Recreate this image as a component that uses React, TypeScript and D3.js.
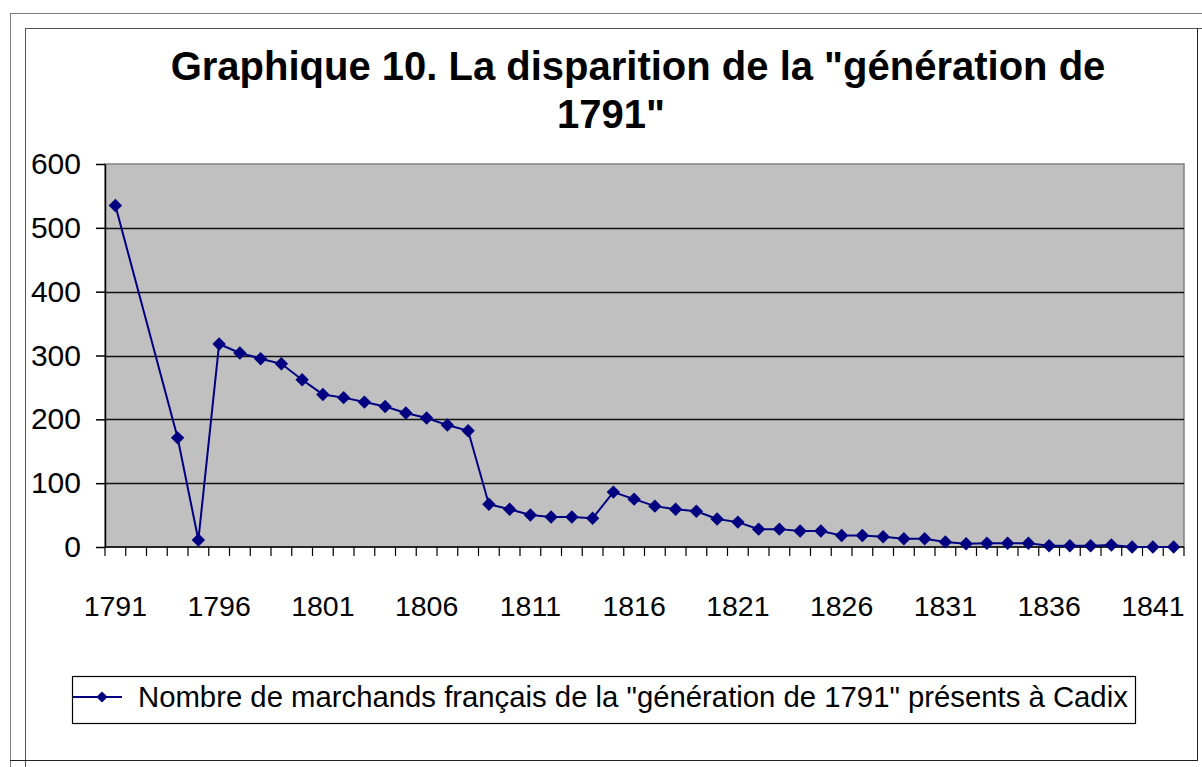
import { useRef, useEffect } from "react";
import * as d3 from "d3";

const WIDTH = 1202;
const HEIGHT = 767;

const YEARS = [
  1791, 1792, 1793, 1794, 1795, 1796, 1797, 1798, 1799, 1800,
  1801, 1802, 1803, 1804, 1805, 1806, 1807, 1808, 1809, 1810,
  1811, 1812, 1813, 1814, 1815, 1816, 1817, 1818, 1819, 1820,
  1821, 1822, 1823, 1824, 1825, 1826, 1827, 1828, 1829, 1830,
  1831, 1832, 1833, 1834, 1835, 1836, 1837, 1838, 1839, 1840,
  1841, 1842,
];

// marchands présents (1792 et 1793 sans donnée)
const MARCHANDS: (number | null)[] = [
  535, null, null, 171, 11, 318, 304, 295, 287, 262,
  239, 234, 227, 220, 210, 202, 191, 182, 67, 59,
  50, 47, 47, 45, 86, 75, 64, 59, 56, 44,
  39, 28, 28, 25, 25, 18, 18, 16, 13, 13,
  8, 5, 6, 6, 6, 2, 2, 2, 3, 0,
  0, 0,
];

const X_LABELS = [1791, 1796, 1801, 1806, 1811, 1816, 1821, 1826, 1831, 1836, 1841];
const Y_TICKS = [0, 100, 200, 300, 400, 500, 600];

const TITLE = ["Graphique 10. La disparition de la \"génération de", "1791\""];
const SERIES_NAME = "Nombre de marchands français de la \"génération de 1791\" présents à Cadix";

const FONT = "'Liberation Sans', Arial, sans-serif";
const NAVY = "#000080";

const PLOT = { left: 105, top: 164, right: 1184, bottom: 547 };

export default function App() {
  const svgRef = useRef<SVGSVGElement>(null);

  useEffect(() => {
    const svg = d3.select(svgRef.current);
    svg.selectAll("*").remove();

    // frame (two offset borders)
    const frame = svg.append("g").attr("fill", "none").attr("shape-rendering", "crispEdges");
    frame.append("path").attr("d", "M10.5,767 V13.5 H1202").attr("stroke", "#808080").attr("stroke-width", 1.5);
    frame.append("path").attr("d", "M25.5,767 V28.5 H1202").attr("stroke", "#555").attr("stroke-width", 1.5);
    frame.append("path").attr("d", "M10,760.5 H1197.5 V28").attr("stroke", "#222").attr("stroke-width", 1.5);

    // title
    svg.append("text")
      .attr("x", 638)
      .attr("y", 80)
      .attr("text-anchor", "middle")
      .attr("font-family", FONT)
      .attr("font-size", 40)
      .attr("font-weight", 700)
      .selectAll("tspan")
      .data(TITLE)
      .enter()
      .append("tspan")
      .attr("x", (_d, i) => (i === 0 ? 638 : 611))
      .attr("dy", (_d, i) => (i === 0 ? 0 : 48))
      .text((d) => d);

    const x = d3.scaleBand<number>()
      .domain(YEARS)
      .range([PLOT.left, PLOT.right])
      .padding(0);

    const y = d3.scaleLinear()
      .domain([0, 600])
      .range([PLOT.bottom, PLOT.top]);

    // plot area
    svg.append("rect")
      .attr("x", PLOT.left)
      .attr("y", PLOT.top)
      .attr("width", PLOT.right - PLOT.left)
      .attr("height", PLOT.bottom - PLOT.top)
      .attr("fill", "#c0c0c0")
      .attr("stroke", "#808080")
      .attr("stroke-width", 1.5);

    // gridlines
    svg.append("g")
      .selectAll("line")
      .data(Y_TICKS.filter((t) => t > 0 && t < 600))
      .enter()
      .append("line")
      .attr("x1", PLOT.left)
      .attr("x2", PLOT.right)
      .attr("y1", (d) => Math.round(y(d)) + 0.5)
      .attr("y2", (d) => Math.round(y(d)) + 0.5)
      .attr("stroke", "#111")
      .attr("stroke-width", 1.4);

    // y axis
    const yAxis = svg.append("g")
      .attr("transform", `translate(${PLOT.left},0)`)
      .call(d3.axisLeft(y).tickValues(Y_TICKS).tickSize(9).tickSizeOuter(0).tickPadding(15).tickFormat(d3.format("d")));
    yAxis.select(".domain").attr("stroke", "#000").attr("stroke-width", 1.5);
    yAxis.selectAll(".tick line").attr("stroke", "#000").attr("stroke-width", 1.5);
    yAxis.selectAll(".tick text")
      .attr("font-family", FONT)
      .attr("font-size", 30)
      .attr("fill", "#000");

    // x axis: ticks between categories, labels every 5 years
    const xg = svg.append("g");
    xg.append("line")
      .attr("x1", PLOT.left)
      .attr("x2", PLOT.right)
      .attr("y1", PLOT.bottom)
      .attr("y2", PLOT.bottom)
      .attr("stroke", "#000")
      .attr("stroke-width", 1.5);
    xg.selectAll("line.tick")
      .data([...YEARS.map((yr) => x(yr) as number), PLOT.right])
      .enter()
      .append("line")
      .attr("class", "tick")
      .attr("x1", (d) => d)
      .attr("x2", (d) => d)
      .attr("y1", PLOT.bottom)
      .attr("y2", PLOT.bottom + 9)
      .attr("stroke", "#000")
      .attr("stroke-width", 1.2);

    const xAxis = svg.append("g")
      .attr("transform", `translate(0,${PLOT.bottom})`)
      .call(d3.axisBottom(x).tickValues(X_LABELS).tickSize(0).tickPadding(49));
    xAxis.select(".domain").remove();
    xAxis.selectAll(".tick text")
      .attr("font-family", FONT)
      .attr("font-size", 28.5)
      .attr("fill", "#000");

    // series
    const pts = YEARS
      .map((yr, i) => ({ yr, v: MARCHANDS[i] }))
      .filter((d) => d.v !== null) as { yr: number; v: number }[];
    const cx = (yr: number) => (x(yr) as number) + x.bandwidth() / 2;

    const line = d3.line<{ yr: number; v: number }>()
      .x((d) => cx(d.yr))
      .y((d) => y(d.v));

    svg.append("path")
      .datum(pts)
      .attr("d", line)
      .attr("fill", "none")
      .attr("stroke", NAVY)
      .attr("stroke-width", 2);

    const diamond = d3.symbol().type(d3.symbolDiamond2).size(115);
    svg.append("g")
      .selectAll("path")
      .data(pts)
      .enter()
      .append("path")
      .attr("d", diamond)
      .attr("transform", (d) => `translate(${cx(d.yr)},${y(d.v)})`)
      .attr("fill", NAVY);

    // legend
    const lg = svg.append("g");
    lg.append("rect")
      .attr("x", 72.5)
      .attr("y", 676.5)
      .attr("width", 1063)
      .attr("height", 47)
      .attr("fill", "#fff")
      .attr("stroke", "#000")
      .attr("stroke-width", 1.2);
    lg.append("line")
      .attr("x1", 73)
      .attr("x2", 122)
      .attr("y1", 697)
      .attr("y2", 697)
      .attr("stroke", NAVY)
      .attr("stroke-width", 2);
    lg.append("path")
      .attr("d", d3.symbol().type(d3.symbolDiamond2).size(80))
      .attr("transform", "translate(102,697)")
      .attr("fill", NAVY);
    lg.append("text")
      .attr("x", 138)
      .attr("y", 707)
      .attr("font-family", FONT)
      .attr("font-size", 29.3)
      .attr("fill", "#000")
      .text(SERIES_NAME);
  }, []);

  return (
    <svg
      ref={svgRef}
      width={WIDTH}
      height={HEIGHT}
      viewBox={`0 0 ${WIDTH} ${HEIGHT}`}
      style={{ position: "absolute", left: 0, top: 0, background: "#fff" }}
    />
  );
}
